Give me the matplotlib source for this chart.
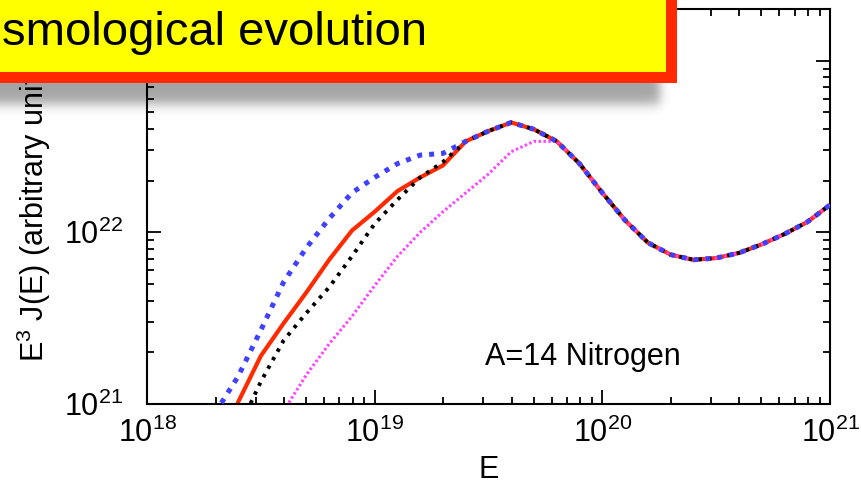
import numpy as np
import matplotlib.pyplot as plt
from matplotlib.patches import Rectangle

plt.rcParams['font.family'] = ['Liberation Sans', 'DejaVu Sans']
plt.rcParams['mathtext.default'] = 'regular'

# values, as log10(E) and log10(E^3 J(E))
# common high energy part (all curves coincide there)
log_E_tail = [19.4, 19.5, 19.6, 19.7, 19.8, 19.9, 20.0, 20.1, 20.2, 20.3, 20.4,
              20.5, 20.6, 20.7, 20.8, 20.9, 21.0]
log_J_tail = [22.53, 22.59, 22.64, 22.60, 22.53, 22.40, 22.23, 22.07, 21.94, 21.87, 21.84,
              21.85, 21.88, 21.93, 21.99, 22.06, 22.16]

# red solid
log_E_red = [18.3, 18.4, 18.5, 18.6, 18.7, 18.8, 18.9, 19.0, 19.1, 19.2, 19.3]
log_J_red = [20.74, 21.01, 21.28, 21.47, 21.65, 21.84, 22.01, 22.12, 22.24, 22.32, 22.39]

# blue dotted
log_E_blue = [18.2, 18.3, 18.4, 18.5, 18.6, 18.7, 18.8, 18.9, 19.0, 19.1, 19.2, 19.3]
log_J_blue = [20.70, 20.95, 21.16, 21.43, 21.71, 21.91, 22.08, 22.23, 22.32, 22.40, 22.45, 22.46]

# black dotted
log_E_black = [18.4, 18.5, 18.6, 18.7, 18.8, 18.9, 19.0, 19.1, 19.2, 19.3]
log_J_black = [20.85, 21.13, 21.37, 21.53, 21.68, 21.86, 22.05, 22.19, 22.32, 22.41]

# magenta fine dotted (joins the others a bit later)
log_E_mag = [18.6, 18.7, 18.8, 18.9, 19.0, 19.1, 19.2, 19.3, 19.4, 19.5, 19.6, 19.7]
log_J_mag = [20.96, 21.17, 21.35, 21.51, 21.69, 21.86, 22.00, 22.12, 22.23, 22.34, 22.47, 22.53]

box_text = 'smological evolution'
nucleus_text = 'A=14 Nitrogen'


def curve(le, lj, start_tail=0):
    x = np.array(le + log_E_tail[start_tail:])
    y = np.array(lj + log_J_tail[start_tail:])
    return 10 ** x, 10 ** y


W, H = 862, 500
fig = plt.figure(figsize=(W / 100, H / 100), dpi=100)
ax = fig.add_axes([147 / W, 1 - 404 / H, (830 - 147) / W, (404 - 9) / H])

x, y = curve(log_E_red, log_J_red)
ax.plot(x, y, color='#ff2a00', lw=3.0, solid_capstyle='butt', zorder=2)
x, y = curve(log_E_mag, log_J_mag, 4)
ax.plot(x, y, color='#ff44ff', lw=2.2, dashes=(0.8, 0.8), dash_capstyle='butt', zorder=3)
x, y = curve(log_E_black, log_J_black)
ax.plot(x, y, color='black', lw=2.8, dashes=(0.9, 1.6), dash_capstyle='butt', zorder=4)
x, y = curve(log_E_blue, log_J_blue)
ax.plot(x, y, color='#4040ff', lw=3.6, dashes=(1.0, 1.4), dash_capstyle='butt', zorder=5)

ax.set_xscale('log')
ax.set_yscale('log')
ax.set_xlim(1e18, 1e21)
ax.set_ylim(1e21, 2e23)
ax.yaxis.set_minor_formatter(plt.NullFormatter())
ax.xaxis.set_minor_formatter(plt.NullFormatter())

for s in ax.spines.values():
    s.set_linewidth(1.5)
ax.tick_params(which='both', direction='in', top=True, right=True, width=1.3)
ax.tick_params(which='major', length=10, labelsize=22)
ax.tick_params(which='minor', length=5)
ax.tick_params(axis='x', pad=10)
ax.tick_params(axis='y', pad=17)

ax.set_xlabel('E', fontsize=22, labelpad=4)
ax.set_ylabel('E$^3$ J(E) (arbitrary units)', fontsize=22, labelpad=8)
ax.text(0.495, 0.10, nucleus_text, transform=ax.transAxes, fontsize=22, va='baseline')

# overlay with the yellow title box and its drop shadow, in pixel coordinates
ov = fig.add_axes([0, 0, 1, 1], zorder=10)
ov.set_xlim(0, W)
ov.set_ylim(H, 0)
ov.axis('off')

yy, xx = np.mgrid[0:H, 0:W] + 0.5
mask = 0.5 * (1 + np.tanh((660 - xx) / 6)) * 0.5 * (1 + np.tanh((104 - yy) / 7))
shadow = np.zeros((H, W, 4))
shadow[..., 3] = 0.36 * mask
ov.imshow(shadow, extent=(0, W, H, 0), aspect='auto', interpolation='bilinear', zorder=1)

ov.add_patch(Rectangle((-5, -5), 682, 88, facecolor='#ff2a00', edgecolor='none', zorder=2))
ov.add_patch(Rectangle((-5, -5), 671, 77, facecolor='#ffff00', edgecolor='none', zorder=3))
ov.text(2, 45, box_text, fontsize=34, va='baseline', ha='left', zorder=4)
ov.set_xlim(0, W)
ov.set_ylim(H, 0)

fig.savefig('out.png', dpi=100)
